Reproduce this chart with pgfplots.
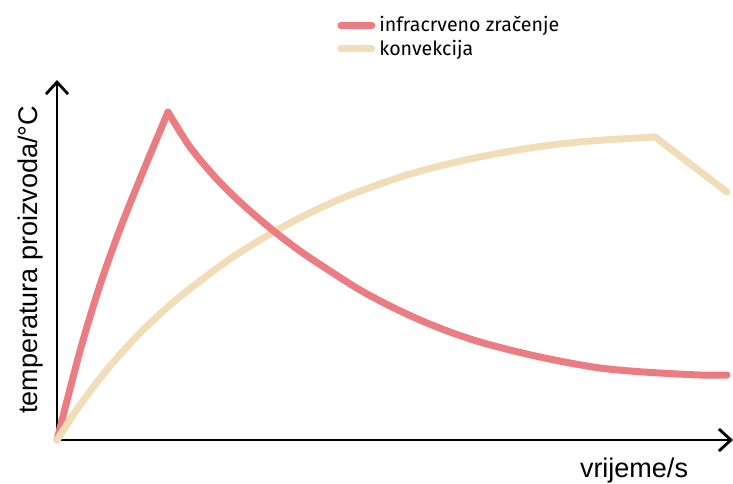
\documentclass[border=0pt]{standalone}
\usepackage{pgfplots}
\pgfplotsset{compat=1.18}
\usepackage{fontspec}
\setmainfont{Liberation Sans}
\newfontfamily\legfont{Fira Sans}
\usetikzlibrary{arrows.meta}
\definecolor{ired}{RGB}{235,125,130}
\definecolor{kbeige}{RGB}{242,221,185}
\begin{document}
\begin{tikzpicture}
\useasboundingbox (-28.5pt,-21.5pt) rectangle (338pt,220pt);
\begin{axis}[
  scale only axis, width=338pt, height=180pt,
  xmin=57, xmax=733, ymin=43, ymax=403,
  axis lines=left,
  axis line style={line width=1.4pt, -{Straight Barb[length=6pt,width=11pt,line width=1.4pt]}},
  xtick=\empty, ytick=\empty,
  clip=false,
  xlabel={vrijeme/s}, ylabel={temperatura proizvoda/°C},
  label style={font=\fontsize{13.5}{16}\selectfont},
  xlabel style={at={(axis cs:634,12)}, anchor=center},
  ylabel style={at={(axis cs:31,223)}, anchor=center, rotate=0},
  legend style={at={(axis cs:337,471)}, anchor=north west, draw=none, fill=none,
    inner sep=0pt, font=\legfont\fontsize{9.8}{11}\selectfont, row sep=-1.5pt,
    cells={anchor=west}},
  legend image code/.code={\draw[#1, line width=3.5pt] (0pt,0pt) -- (15.5pt,0pt);},
  every axis plot/.append style={line width=3.5pt, line cap=round, line join=round},
]
\addplot[ired, smooth, tension=0.5] coordinates {
(57,43) (80,132) (100,198) (120,254) (140,304) (155,340) (168,371)};
\addlegendentry{infracrveno zračenje}
\addplot[kbeige, smooth, tension=0.5] coordinates {
(57,43) (80,78) (110,117) (140,150) (170,178) (200,202) (230,224) (260,243)
(290,260) (320,275) (350,288) (380,299) (410,309) (440,317) (470,324)
(500,330) (530,335) (560,339) (590,342) (620,344) (655,346)};
\addlegendentry{konvekcija}
\addplot[kbeige, forget plot] coordinates {(655,346) (727,291)};
\addplot[ired, smooth, tension=0.5, forget plot] coordinates {
(168,371) (190,336) (215,306) (240,281) (270,255) (300,232) (330,212)
(360,193) (390,177) (420,163) (450,151) (480,141) (510,133) (540,126)
(570,120) (600,115) (630,112) (660,110) (700,108) (727,108)};
\end{axis}
\end{tikzpicture}
\end{document}
